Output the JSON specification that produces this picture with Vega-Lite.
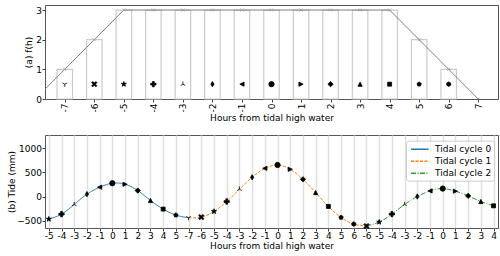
{
  "$schema": "https://vega.github.io/schema/vega-lite/v6.json",
  "padding": {"left": 7, "top": 4, "right": 0, "bottom": 0},
  "background": "#ffffff",
  "config": {
    "font": "DejaVu Sans",
    "view": {"stroke": "#555555", "strokeWidth": 1},
    "axis": {
      "labelFont": "DejaVu Sans", "titleFont": "DejaVu Sans",
      "labelFontSize": 9, "titleFontSize": 9, "titleFontWeight": "normal",
      "labelColor": "#000000", "titleColor": "#000000",
      "tickColor": "#444444", "tickSize": 3, "domain": false, "grid": false,
      "labelOverlap": false, "labelFlush": false, "tickCount": 50
    }
  },
  "datasets": {
    "fh": [
      {"h": -8, "f": 0}, {"h": -7, "f": 1}, {"h": -6, "f": 2}, {"h": -5, "f": 3},
      {"h": -4, "f": 3}, {"h": -3, "f": 3}, {"h": -2, "f": 3}, {"h": -1, "f": 3},
      {"h": 0, "f": 3}, {"h": 1, "f": 3}, {"h": 2, "f": 3}, {"h": 3, "f": 3},
      {"h": 4, "f": 3}, {"h": 5, "f": 2}, {"h": 6, "f": 1}, {"h": 7, "f": 0}
    ],
    "tide": [
      {"idx": 0, "hour": -5, "tide": -466}, {"idx": 1, "hour": -4, "tide": -363},
      {"idx": 2, "hour": -3, "tide": -164}, {"idx": 3, "hour": -2, "tide": 48},
      {"idx": 4, "hour": -1, "tide": 192}, {"idx": 5, "hour": 0, "tide": 274},
      {"idx": 6, "hour": 1, "tide": 253}, {"idx": 7, "hour": 2, "tide": 123},
      {"idx": 8, "hour": 3, "tide": -82}, {"idx": 9, "hour": 4, "tide": -260},
      {"idx": 10, "hour": 5, "tide": -384},
      {"idx": 11, "hour": -7, "tide": -438}, {"idx": 12, "hour": -6, "tide": -425},
      {"idx": 13, "hour": -5, "tide": -308}, {"idx": 14, "hour": -4, "tide": -103},
      {"idx": 15, "hour": -3, "tide": 151}, {"idx": 16, "hour": -2, "tide": 397},
      {"idx": 17, "hour": -1, "tide": 582}, {"idx": 18, "hour": 0, "tide": 651},
      {"idx": 19, "hour": 1, "tide": 562}, {"idx": 20, "hour": 2, "tide": 356},
      {"idx": 21, "hour": 3, "tide": 82}, {"idx": 22, "hour": 4, "tide": -205},
      {"idx": 23, "hour": 5, "tide": -432}, {"idx": 24, "hour": 6, "tide": -569},
      {"idx": 25, "hour": -6, "tide": -610}, {"idx": 26, "hour": -5, "tide": -527},
      {"idx": 27, "hour": -4, "tide": -363}, {"idx": 28, "hour": -3, "tide": -164},
      {"idx": 29, "hour": -2, "tide": 0}, {"idx": 30, "hour": -1, "tide": 116},
      {"idx": 31, "hour": 0, "tide": 164}, {"idx": 32, "hour": 1, "tide": 110},
      {"idx": 33, "hour": 2, "tide": 14}, {"idx": 34, "hour": 3, "tide": -103},
      {"idx": 35, "hour": 4, "tide": -192}
    ],
    "lines": [
      {"idx": 0, "tide": -466, "cycle": "Tidal cycle 0"}, {"idx": 1, "tide": -363, "cycle": "Tidal cycle 0"},
      {"idx": 2, "tide": -164, "cycle": "Tidal cycle 0"}, {"idx": 3, "tide": 48, "cycle": "Tidal cycle 0"},
      {"idx": 4, "tide": 192, "cycle": "Tidal cycle 0"}, {"idx": 5, "tide": 274, "cycle": "Tidal cycle 0"},
      {"idx": 6, "tide": 253, "cycle": "Tidal cycle 0"}, {"idx": 7, "tide": 123, "cycle": "Tidal cycle 0"},
      {"idx": 8, "tide": -82, "cycle": "Tidal cycle 0"}, {"idx": 9, "tide": -260, "cycle": "Tidal cycle 0"},
      {"idx": 10, "tide": -384, "cycle": "Tidal cycle 0"}, {"idx": 11, "tide": -438, "cycle": "Tidal cycle 0"},
      {"idx": 11, "tide": -438, "cycle": "Tidal cycle 1"}, {"idx": 12, "tide": -425, "cycle": "Tidal cycle 1"},
      {"idx": 13, "tide": -308, "cycle": "Tidal cycle 1"}, {"idx": 14, "tide": -103, "cycle": "Tidal cycle 1"},
      {"idx": 15, "tide": 151, "cycle": "Tidal cycle 1"}, {"idx": 16, "tide": 397, "cycle": "Tidal cycle 1"},
      {"idx": 17, "tide": 582, "cycle": "Tidal cycle 1"}, {"idx": 18, "tide": 651, "cycle": "Tidal cycle 1"},
      {"idx": 19, "tide": 562, "cycle": "Tidal cycle 1"}, {"idx": 20, "tide": 356, "cycle": "Tidal cycle 1"},
      {"idx": 21, "tide": 82, "cycle": "Tidal cycle 1"}, {"idx": 22, "tide": -205, "cycle": "Tidal cycle 1"},
      {"idx": 23, "tide": -432, "cycle": "Tidal cycle 1"}, {"idx": 24, "tide": -569, "cycle": "Tidal cycle 1"},
      {"idx": 25, "tide": -610, "cycle": "Tidal cycle 1"},
      {"idx": 25, "tide": -610, "cycle": "Tidal cycle 2"}, {"idx": 26, "tide": -527, "cycle": "Tidal cycle 2"},
      {"idx": 27, "tide": -363, "cycle": "Tidal cycle 2"}, {"idx": 28, "tide": -164, "cycle": "Tidal cycle 2"},
      {"idx": 29, "tide": 0, "cycle": "Tidal cycle 2"}, {"idx": 30, "tide": 116, "cycle": "Tidal cycle 2"},
      {"idx": 31, "tide": 164, "cycle": "Tidal cycle 2"}, {"idx": 32, "tide": 110, "cycle": "Tidal cycle 2"},
      {"idx": 33, "tide": 14, "cycle": "Tidal cycle 2"}, {"idx": 34, "tide": -103, "cycle": "Tidal cycle 2"},
      {"idx": 35, "tide": -192, "cycle": "Tidal cycle 2"}
    ]
  },
  "spacing": 10,
  "resolve": {"scale": {"x": "independent", "y": "independent", "shape": "independent"}},
  "vconcat": [
    {
      "width": 453,
      "height": 94,
      "data": {"name": "fh"},
      "layer": [
        {
          "transform": [{"filter": "datum.h >= -7 && datum.h <= 6"}],
          "mark": {"type": "bar", "width": 15.5, "fill": "#ffffff", "fillOpacity": 0, "stroke": "#cccccc", "strokeWidth": 1.2},
          "encoding": {
            "x": {"field": "h", "type": "quantitative",
              "scale": {"domain": [-7.5, 7.5], "nice": false, "zero": false},
              "axis": {"values": [-7, -6, -5, -4, -3, -2, -1, 0, 1, 2, 3, 4, 5, 6, 7], "tickCount": 50, "labelAngle": -90,
                "labelExpr": "'' + datum.value", "title": "Hours from tidal high water", "labelPadding": 1, "titlePadding": 2}},
            "y": {"field": "f", "type": "quantitative",
              "scale": {"domain": [0, 3.17], "nice": false},
              "axis": {"values": [0, 1, 2, 3], "tickCount": 50, "format": "d", "title": "(a) f(h)", "labelPadding": 0.5, "titlePadding": 2}}
          }
        },
        {
          "mark": {"type": "line", "color": "#808080", "strokeWidth": 1, "clip": true},
          "encoding": {
            "x": {"field": "h", "type": "quantitative"},
            "y": {"field": "f", "type": "quantitative"}
          }
        },
        {
          "mark": {"type": "point", "shape": "M-1,-1L1,1M-1,1L1,-1", "size": 9, "color": "#999999", "strokeWidth": 0.8, "filled": false, "clip": true, "opacity": 1},
          "encoding": {
            "x": {"field": "h", "type": "quantitative"},
            "y": {"field": "f", "type": "quantitative"}
          }
        },
        {
          "transform": [{"filter": "datum.h >= -7 && datum.h <= 6"}],
          "mark": {"type": "point", "filled": true, "fill": "#000000", "stroke": "#000000", "strokeWidth": 0.8, "size": 28, "opacity": 1},
          "encoding": {
            "x": {"field": "h", "type": "quantitative"},
            "y": {"datum": 0.5, "type": "quantitative"},
            "shape": {"field": "h", "type": "nominal", "legend": null,
              "scale": {"domain": [-7, -6, -5, -4, -3, -2, -1, 0, 1, 2, 3, 4, 5, 6],
                "range": [
                  "M0,0L0,1M0,0L-0.87,-0.5M0,0L0.87,-0.5",
                  "M-1,-0.6L-0.6,-1L0,-0.4L0.6,-1L1,-0.6L0.4,0L1,0.6L0.6,1L0,0.4L-0.6,1L-1,0.6L-0.4,0Z",
                  "M0,-1L0.2245,-0.309L0.951,-0.309L0.363,0.118L0.588,0.809L0,0.382L-0.588,0.809L-0.363,0.118L-0.951,-0.309L-0.2245,-0.309Z",
                  "M-0.33,-1L0.33,-1L0.33,-0.33L1,-0.33L1,0.33L0.33,0.33L0.33,1L-0.33,1L-0.33,0.33L-1,0.33L-1,-0.33L-0.33,-0.33Z",
                  "M0,0L0,-1M0,0L-0.87,0.5M0,0L0.87,0.5",
                  "M0,-1L0.6,0L0,1L-0.6,0Z",
                  "M-0.8,0L0.8,-0.8L0.8,0.8Z",
                  "circle",
                  "M0.8,0L-0.8,-0.8L-0.8,0.8Z",
                  "M0,-1L1,0L0,1L-1,0Z",
                  "M0,-0.8L0.8,0.8L-0.8,0.8Z",
                  "M-0.75,-0.75L0.75,-0.75L0.75,0.75L-0.75,0.75Z",
                  "M0,-0.85L0.808,-0.263L0.5,0.688L-0.5,0.688L-0.808,-0.263Z",
                  "M0,-0.85L0.736,-0.425L0.736,0.425L0,0.85L-0.736,0.425L-0.736,-0.425Z"
                ]}}
          }
        }
      ]
    },
    {
      "width": 453,
      "height": 93,
      "layer": [
        {
          "data": {"name": "lines"},
          "mark": {"type": "line", "interpolate": "natural", "strokeWidth": 1},
          "encoding": {
            "x": {"field": "idx", "type": "quantitative",
              "scale": {"domain": [-0.3, 35.35], "nice": false, "zero": false},
              "axis": {"values": [0, 1, 2, 3, 4, 5, 6, 7, 8, 9, 10, 11, 12, 13, 14, 15, 16, 17, 18, 19, 20, 21, 22, 23, 24, 25, 26, 27, 28, 29, 30, 31, 32, 33, 34, 35],
                "tickCount": 100,
                "labelExpr": "['-5','-4','-3','-2','-1','0','1','2','3','4','5','-7','-6','-5','-4','-3','-2','-1','0','1','2','3','4','5','6','-6','-5','-4','-3','-2','-1','0','1','2','3','4'][datum.value]",
                "title": "Hours from tidal high water", "grid": true, "gridColor": "#e0e0e0", "gridWidth": 1.5,
                "labelPadding": 0, "titlePadding": 1}},
            "y": {"field": "tide", "type": "quantitative",
              "scale": {"domain": [-650, 1270], "nice": false, "zero": false},
              "axis": {"values": [-500, 0, 500, 1000], "tickCount": 50, "format": "d", "title": "(b) Tide (mm)", "labelPadding": 0.5, "titlePadding": 0}},
            "color": {"field": "cycle", "type": "nominal", "title": null,
              "scale": {"domain": ["Tidal cycle 0", "Tidal cycle 1", "Tidal cycle 2"], "range": ["#1f77b4", "#ff7f0e", "#2ca02c"]},
              "legend": {"orient": "none", "legendX": 361, "legendY": 135.7, "padding": 2, "fillColor": "rgba(255,255,255,0.8)", "strokeColor": "#cccccc", "cornerRadius": 2.5, "labelFont": "DejaVu Sans", "labelFontSize": 9, "labelColor": "#000000", "symbolType": "M-0.64,0L2.55,0", "symbolSize": 121, "symbolStrokeWidth": 1.5, "symbolFillColor": "transparent", "labelOffset": 14, "rowPadding": 0}},
            "strokeDash": {"field": "cycle", "type": "nominal", "title": null,
              "scale": {"domain": ["Tidal cycle 0", "Tidal cycle 1", "Tidal cycle 2"], "range": [[1, 0], [3, 1.5], [5, 1.5, 1, 1.5]]},
              "legend": {"orient": "none", "legendX": 361, "legendY": 135.7, "padding": 2, "fillColor": "rgba(255,255,255,0.8)", "strokeColor": "#cccccc", "cornerRadius": 2.5, "labelFont": "DejaVu Sans", "labelFontSize": 9, "labelColor": "#000000", "symbolType": "M-0.64,0L2.55,0", "symbolSize": 121, "symbolStrokeWidth": 1.5, "symbolFillColor": "transparent", "labelOffset": 14, "rowPadding": 0}}
          }
        },
        {
          "data": {"name": "tide"},
          "mark": {"type": "point", "filled": true, "fill": "#000000", "stroke": "#000000", "strokeWidth": 0.8, "size": 28, "opacity": 1},
          "encoding": {
            "x": {"field": "idx", "type": "quantitative"},
            "y": {"field": "tide", "type": "quantitative"},
            "shape": {"field": "hour", "type": "nominal", "legend": null,
              "scale": {"domain": [-7, -6, -5, -4, -3, -2, -1, 0, 1, 2, 3, 4, 5, 6],
                "range": [
                  "M0,0L0,1M0,0L-0.87,-0.5M0,0L0.87,-0.5",
                  "M-1,-0.6L-0.6,-1L0,-0.4L0.6,-1L1,-0.6L0.4,0L1,0.6L0.6,1L0,0.4L-0.6,1L-1,0.6L-0.4,0Z",
                  "M0,-1L0.2245,-0.309L0.951,-0.309L0.363,0.118L0.588,0.809L0,0.382L-0.588,0.809L-0.363,0.118L-0.951,-0.309L-0.2245,-0.309Z",
                  "M-0.33,-1L0.33,-1L0.33,-0.33L1,-0.33L1,0.33L0.33,0.33L0.33,1L-0.33,1L-0.33,0.33L-1,0.33L-1,-0.33L-0.33,-0.33Z",
                  "M0,0L0,-1M0,0L-0.87,0.5M0,0L0.87,0.5",
                  "M0,-1L0.6,0L0,1L-0.6,0Z",
                  "M-0.8,0L0.8,-0.8L0.8,0.8Z",
                  "circle",
                  "M0.8,0L-0.8,-0.8L-0.8,0.8Z",
                  "M0,-1L1,0L0,1L-1,0Z",
                  "M0,-0.8L0.8,0.8L-0.8,0.8Z",
                  "M-0.75,-0.75L0.75,-0.75L0.75,0.75L-0.75,0.75Z",
                  "M0,-0.85L0.808,-0.263L0.5,0.688L-0.5,0.688L-0.808,-0.263Z",
                  "M0,-0.85L0.736,-0.425L0.736,0.425L0,0.85L-0.736,0.425L-0.736,-0.425Z"
                ]}}
          }
        }
      ]
    }
  ]
}
